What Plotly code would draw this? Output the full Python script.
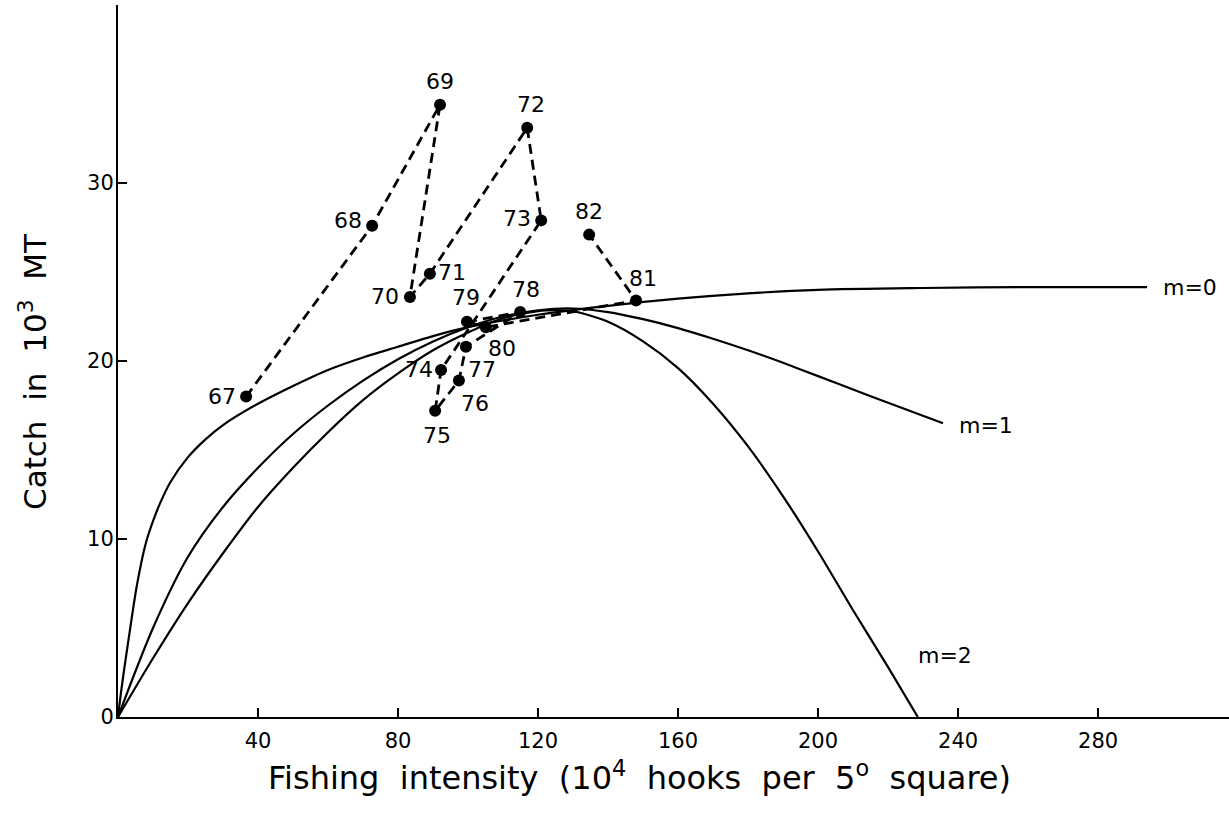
import plotly.graph_objects as go

# ---- observed points (year, effort, catch) ----
years = ["67", "68", "69", "70", "71", "72", "73", "74", "75", "76", "77", "78", "79", "80", "81", "82"]
effort = [36.6, 72.6, 92.0, 83.4, 89.1, 116.9, 120.9, 92.3, 90.6, 97.4, 99.4, 114.9, 99.7, 105.1, 148.0, 134.6]
catch = [18.0, 27.6, 34.4, 23.6, 24.9, 33.1, 27.9, 19.5, 17.2, 18.9, 20.8, 22.75, 22.2, 21.9, 23.4, 27.1]

# ---- model curves ----
m0_x = [0, 1, 2, 3.5, 5.4, 8, 10, 12, 15, 20, 25, 30, 40, 50, 60, 70, 80, 90, 100, 120, 140, 160, 180, 200, 230, 260, 294]
m0_y = [0, 1.6, 3.0, 5.0, 7.4, 9.8, 11.0, 12.0, 13.2, 14.6, 15.6, 16.4, 17.6, 18.6, 19.5, 20.2, 20.8, 21.4, 21.9, 22.6, 23.1, 23.5, 23.8, 24.0, 24.1, 24.15, 24.15]

m1_x = [0, 10, 20, 30, 40, 50, 60, 70, 80, 90, 100, 110, 120, 130, 140, 150, 160, 170, 180, 190, 200, 210, 220, 235.7]
m1_y = [0, 5.0, 9.0, 11.8, 14.0, 15.9, 17.5, 18.9, 20.1, 21.1, 21.9, 22.5, 22.85, 22.95, 22.75, 22.35, 21.85, 21.25, 20.6, 19.9, 19.15, 18.4, 17.65, 16.5]

m2_x = [0, 10, 20, 30, 40, 50, 60, 70, 80, 90, 100, 110, 120, 125, 130, 140, 150, 160, 170, 180, 190, 200, 210, 220, 228.5]
m2_y = [0, 3.3, 6.4, 9.2, 11.8, 14.0, 16.0, 17.8, 19.3, 20.6, 21.6, 22.4, 22.8, 22.85, 22.8, 22.2, 21.1, 19.6, 17.6, 15.2, 12.4, 9.3, 6.0, 2.8, 0]

curve_names = ["m=0", "m=1", "m=2"]

x_ticks = [40, 80, 120, 160, 200, 240, 280]
y_ticks = [0, 10, 20, 30]

FONT = "DejaVu Sans, Liberation Sans, Arial, sans-serif"

fig = go.Figure()

for cx, cy in [(m0_x, m0_y), (m1_x, m1_y), (m2_x, m2_y)]:
    fig.add_trace(go.Scatter(x=cx, y=cy, mode="lines",
                             line=dict(color="black", width=2.2, shape="spline", smoothing=0.8),
                             hoverinfo="skip", showlegend=False))

fig.add_trace(go.Scatter(x=effort, y=catch, mode="lines+markers",
                         line=dict(color="black", width=2.8, dash="10px,6px"),
                         marker=dict(color="black", size=12),
                         showlegend=False))

# label placement (xanchor, yanchor, xshift, yshift) per year
label_pos = {
    "67": ("right", "middle", -8, 0),
    "68": ("right", "middle", -8, 5),
    "69": ("center", "bottom", 0, 9),
    "70": ("right", "middle", -9, 0),
    "71": ("left", "middle", 6, 1),
    "72": ("center", "bottom", 4, 9),
    "73": ("right", "middle", -8, 2),
    "74": ("right", "middle", -6, 0),
    "75": ("center", "top", 2, -10),
    "76": ("left", "top", 0, -8),
    "77": ("left", "top", 0, -8),
    "78": ("center", "bottom", 6, 8),
    "79": ("center", "bottom", -1, 10),
    "80": ("left", "top", 0, -7),
    "81": ("left", "bottom", -9, 7),
    "82": ("center", "bottom", 0, 9),
}
for yr, ex, cy in zip(years, effort, catch):
    xa, ya, xs, ys = label_pos[yr]
    fig.add_annotation(x=ex, y=cy, text=yr, showarrow=False, xanchor=xa, yanchor=ya,
                       xshift=xs, yshift=ys, font=dict(family=FONT, size=22, color="black"))

# curve labels at curve ends
ends = [(m0_x[-1], m0_y[-1], 14, 0), (m1_x[-1], m1_y[-1], 14, -2), (m2_x[-1], m2_y[-1], -2, 62)]
for name, (ex, ey, xs, ys) in zip(curve_names, ends):
    fig.add_annotation(x=ex, y=ey, text=name, showarrow=False, xanchor="left", yanchor="middle",
                       xshift=xs, yshift=ys, font=dict(family=FONT, size=22, color="black"))

fig.add_annotation(xref="paper", yref="paper", x=0.4697, y=-0.051, xanchor="center", yanchor="top",
                   text="Fishing&nbsp;&nbsp;intensity&nbsp;&nbsp;(10<sup>4</sup>&nbsp;&nbsp;hooks&nbsp;&nbsp;per&nbsp;&nbsp;5<sup>o</sup>&nbsp;&nbsp;square)",
                   showarrow=False, font=dict(family=FONT, size=32, color="black"))
fig.add_annotation(xref="paper", yref="paper", x=-0.0765, y=0.4846, xanchor="center", yanchor="middle",
                   text="Catch&nbsp;&nbsp;in&nbsp;&nbsp;10<sup>3</sup>&nbsp;&nbsp;MT", textangle=-90,
                   showarrow=False, font=dict(family=FONT, size=31, color="black"))

fig.update_xaxes(range=[0, 317.4], tickvals=x_ticks, ticks="inside", ticklen=9, tickwidth=2, tickcolor="black",
                 showline=True, linecolor="black", linewidth=2, showgrid=False, zeroline=False,
                 ticklabelstandoff=4,
                 tickfont=dict(family=FONT, size=21, color="black"))
fig.update_yaxes(range=[0, 40], tickvals=y_ticks, ticks="inside", ticklen=9, tickwidth=2, tickcolor="black",
                 showline=True, linecolor="black", linewidth=2, showgrid=False, zeroline=False,
                 ticklabelstandoff=-2,
                 tickfont=dict(family=FONT, size=21, color="black"))

fig.update_layout(width=1229, height=821, margin=dict(l=118, r=0, t=5, b=104),
                  plot_bgcolor="white", paper_bgcolor="white", showlegend=False)

fig.write_html("out.html", config={"displayModeBar": False},
               post_script="document.body.style.margin='0';")
